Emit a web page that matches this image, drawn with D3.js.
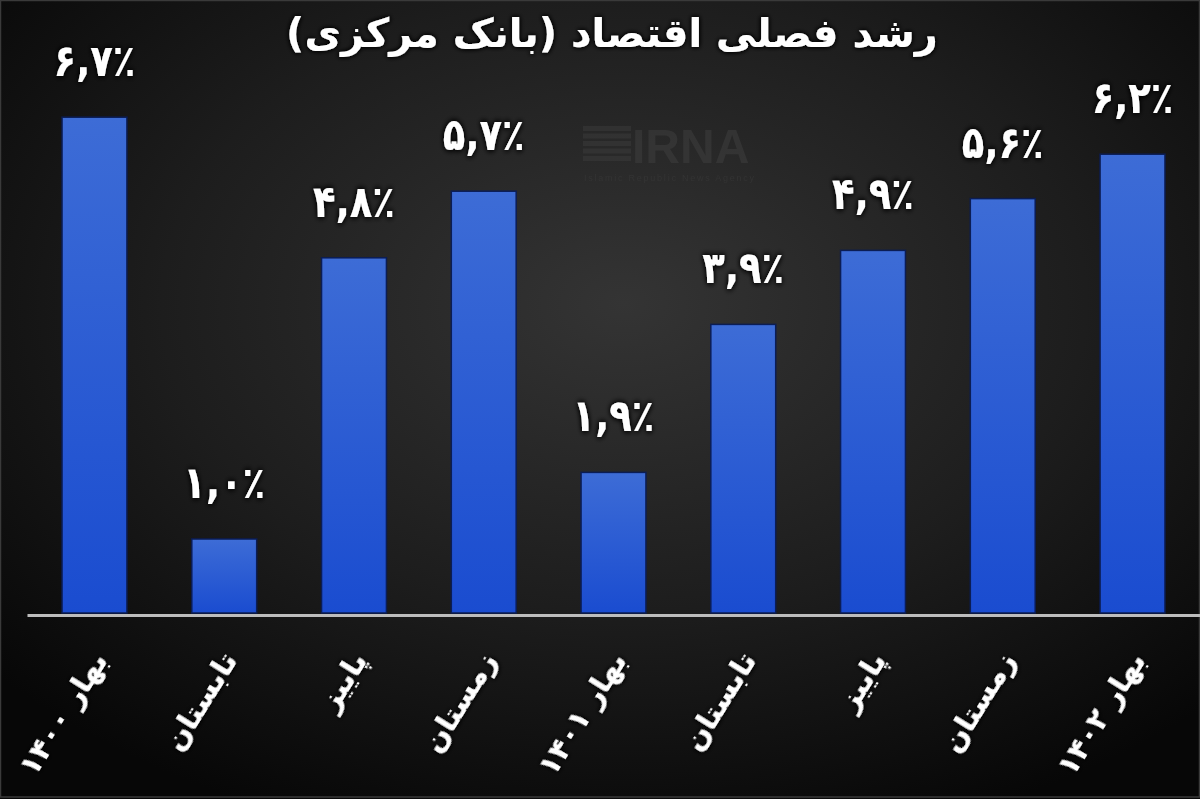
<!DOCTYPE html>
<html><head><meta charset="utf-8">
<script src="https://cdn.jsdelivr.net/npm/d3@7"></script>
<style>html,body{margin:0;padding:0;background:#000;}svg{display:block;}</style>
</head><body>
<svg id="chart" width="1200" height="799"></svg>
<script>
const title = "رشد فصلی اقتصاد (بانک مرکزی)";
const categories = ["بهار ۱۴۰۰","تابستان","پاییز","زمستان","بهار ۱۴۰۱","تابستان","پاییز","زمستان","بهار ۱۴۰۲"];
const values = [6.7, 1.0, 4.8, 5.7, 1.9, 3.9, 4.9, 5.6, 6.2];

const W = 1200, H = 799;
const svg = d3.select("#chart");
const defs = svg.append("defs");

const bg = defs.append("radialGradient").attr("id","bg").attr("cx","52%").attr("cy","38%").attr("r","70%");
bg.append("stop").attr("offset","0%").attr("stop-color","#343434");
bg.append("stop").attr("offset","55%").attr("stop-color","#1d1d1d");
bg.append("stop").attr("offset","100%").attr("stop-color","#070707");

const bar = defs.append("linearGradient").attr("id","barg").attr("x1",0).attr("y1",0).attr("x2",0).attr("y2",1);
bar.append("stop").attr("offset","0%").attr("stop-color","#3d6cd6");
bar.append("stop").attr("offset","100%").attr("stop-color","#1a4cd0");

const glow = defs.append("filter").attr("id","glow").attr("x","-20%").attr("y","-40%").attr("width","140%").attr("height","180%");
glow.append("feGaussianBlur").attr("in","SourceAlpha").attr("stdDeviation",2.5).attr("result","b");
glow.append("feFlood").attr("flood-color","#000").attr("flood-opacity",1).attr("result","c");
glow.append("feComposite").attr("in","c").attr("in2","b").attr("operator","in").attr("result","s");
const m = glow.append("feMerge");
m.append("feMergeNode").attr("in","s");
m.append("feMergeNode").attr("in","s");
m.append("feMergeNode").attr("in","SourceGraphic");

svg.append("rect").attr("width",W).attr("height",H).attr("fill","url(#bg)");
svg.append("rect").attr("x",0.5).attr("y",0.5).attr("width",W-1).attr("height",H-2.5)
  .attr("fill","none").attr("stroke","#3a3a3a").attr("stroke-width",1.5);

// watermark
const wm = svg.append("g").attr("opacity",0.5);
[0,1,2,3,4].forEach(i=>{
  wm.append("rect").attr("x",583).attr("y",126+i*7.5).attr("width",48).attr("height",5).attr("fill","#3c3c3c");
});
wm.append("text").attr("x",632).attr("y",163).attr("font-family","Liberation Sans, Arial, sans-serif")
  .attr("font-weight","bold").attr("font-size",48).attr("fill","#404040").text("IRNA");
wm.append("text").attr("x",584).attr("y",181).attr("font-family","Liberation Sans, Arial, sans-serif")
  .attr("font-size",9).attr("fill","#3c3c3c").attr("textLength",170).text("Islamic Republic News Agency");

const idx = d3.range(categories.length);
const x = d3.scaleBand().domain(idx).range([29.6, 1197.4]).paddingInner(0.5).paddingOuter(0.25);
const y = d3.scaleLinear().domain([0, 8]).range([613, 21]);

const toFa = s => s.replace(/\d/g, d => "۰۱۲۳۴۵۶۷۸۹"[+d]);
const fmt = v => toFa(v.toFixed(1).replace(".", ",")) + "٪";

svg.append("g").selectAll("rect").data(values).join("rect")
  .attr("x",(d,i)=>x(i)).attr("y",d=>y(d))
  .attr("width",x.bandwidth()).attr("height",d=>y(0)-y(d))
  .attr("fill","url(#barg)").attr("stroke","#0b1d55").attr("stroke-width",1.5);

// axis baseline
const axis = svg.append("g").attr("transform","translate(0,615)")
  .call(d3.axisBottom(d3.scaleLinear().domain([0,1]).range([27,1200])).ticks(0).tickSize(0).tickFormat(""));
axis.select(".domain").attr("stroke","#bdbdbd").attr("stroke-width",3);

// value labels
svg.append("g").selectAll("text").data(values).join("text")
  .attr("transform",(d,i)=>`translate(${x(i)+x.bandwidth()/2},${y(d)-41}) scale(1,1.2)`)
  .attr("text-anchor","middle").attr("direction","ltr")
  .attr("font-family","DejaVu Sans, sans-serif").attr("font-weight","bold").attr("font-size",37)
  .attr("fill","#fff").attr("filter","url(#glow)")
  .text(d=>fmt(d));

// category labels
svg.append("g").selectAll("text").data(categories).join("text")
  .attr("transform",(d,i)=>`translate(${x(i)+x.bandwidth()/2+14},${660}) rotate(-58)`)
  .attr("text-anchor","end")
  .attr("font-family","DejaVu Sans, sans-serif").attr("font-weight","bold").attr("font-size",29)
  .attr("fill","#fff").attr("filter","url(#glow)")
  .text(d=>d);

// title
svg.append("text").attr("x",612).attr("y",47).attr("text-anchor","middle").attr("direction","rtl")
  .attr("font-family","DejaVu Sans, sans-serif").attr("font-weight","bold").attr("font-size",40)
  .attr("fill","#fff").attr("filter","url(#glow)").text(title);
</script>
</body></html>
